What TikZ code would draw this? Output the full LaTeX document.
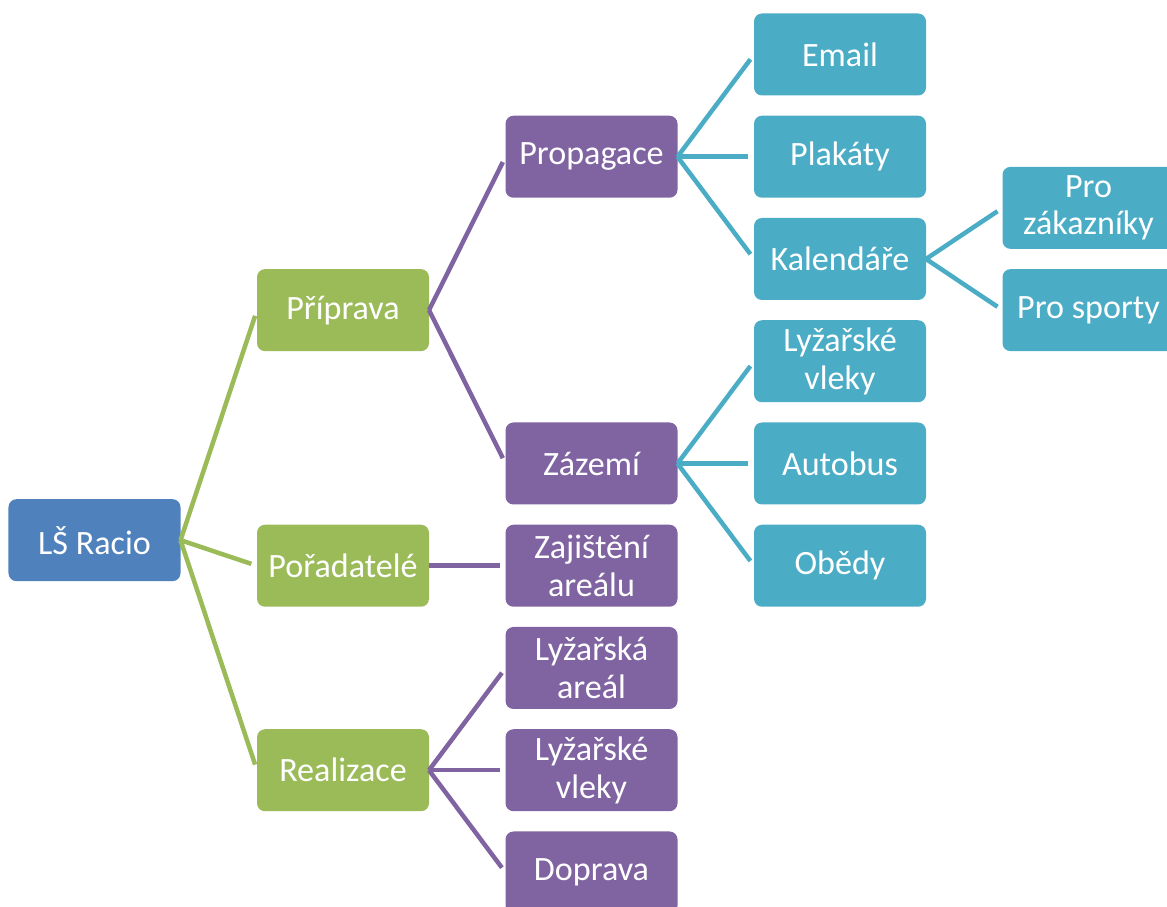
\documentclass[tikz,border=0pt]{standalone}
\usepackage{fontspec}
\setmainfont{Carlito}
\usetikzlibrary{positioning,calc}
\definecolor{lsblue}{HTML}{4F81BD}
\definecolor{lsgreen}{HTML}{9BBB59}
\definecolor{lspurple}{HTML}{8064A2}
\definecolor{lsaqua}{HTML}{4BACC6}
\tikzset{
  box/.style={rectangle, rounded corners=0.16cm, minimum width=3.44cm,
    minimum height=1.64cm, align=center, text=white,
    inner sep=0pt, outer sep=0pt, font=\fontsize{19.4}{21.5}\selectfont},
  lvl0/.style={box, fill=lsblue},
  lvl1/.style={box, fill=lsgreen},
  lvl2/.style={box, fill=lspurple},
  lvl3/.style={box, fill=lsaqua},
  link/.style={line width=0.09cm, shorten >=0.12cm}
}

\begin{document}
\begin{tikzpicture}[node distance = 0.405cm and 1.53cm]
\useasboundingbox (0,0) rectangle (23.34,-18.14);
\clip (0,0) rectangle (23.34,-18.14);

\node[lvl3] (email) at (16.8,-1.09) {Email};
\node[lvl3] (plakaty) [below = of email] {Plakáty};
\node[lvl3] (kal) [below = of plakaty] {Kalendáře};
\node[lvl3] (vleky) [below = of kal] {Lyžařské\\vleky};
\node[lvl3] (autobus) [below = of vleky] {Autobus};
\node[lvl3] (obedy) [below = of autobus] {Obědy};

\node[lvl2] (propagace) [left = of plakaty] {Propagace};
\node[lvl2] (zazemi) [left = of autobus] {Zázemí};
\node[lvl2] (zajisteni) [left = of obedy] {Zajištění\\areálu};
\node[lvl2] (areal) [below = of zajisteni] {Lyžařská\\areál};
\node[lvl2] (vlekyb) [below = of areal] {Lyžařské\\vleky};
\node[lvl2] (doprava) [below = of vlekyb] {Doprava};

\coordinate (m1) at ($(propagace.west)!0.5!(zazemi.west)$);
\node[lvl1] (priprava) [left = of m1] {Příprava};
\node[lvl1] (poradatele) [left = of zajisteni] {Pořadatelé};
\node[lvl1] (realizace) [left = of vlekyb] {Realizace};

\coordinate (m0) at ($(priprava.west)!0.5!(realizace.west)$);
\node[lvl0] (root) [left = of m0] {LŠ Racio};

\coordinate (m2) at ($(plakaty.east)!0.5!(kal.east)$);
\node[lvl3] (zakaznici) [right = of m2] {Pro\\zákazníky};
\node[lvl3] (sporty) [below = of zakaznici] {Pro sporty};

\path[link, draw=lsgreen] (root.east) edge (priprava.west)
    edge (poradatele.west)
    edge (realizace.west);
\path[link, draw=lspurple] (priprava.east) edge (propagace.west)
    edge (zazemi.west)
    (poradatele.east) edge (zajisteni.west)
    (realizace.east) edge (areal.west)
    edge (vlekyb.west)
    edge (doprava.west);
\path[link, draw=lsaqua] (propagace.east) edge (email.west)
    edge (plakaty.west)
    edge (kal.west)
    (zazemi.east) edge (vleky.west)
    edge (autobus.west)
    edge (obedy.west)
    (kal.east) edge (zakaznici.west)
    edge (sporty.west);
\end{tikzpicture}
\end{document}
